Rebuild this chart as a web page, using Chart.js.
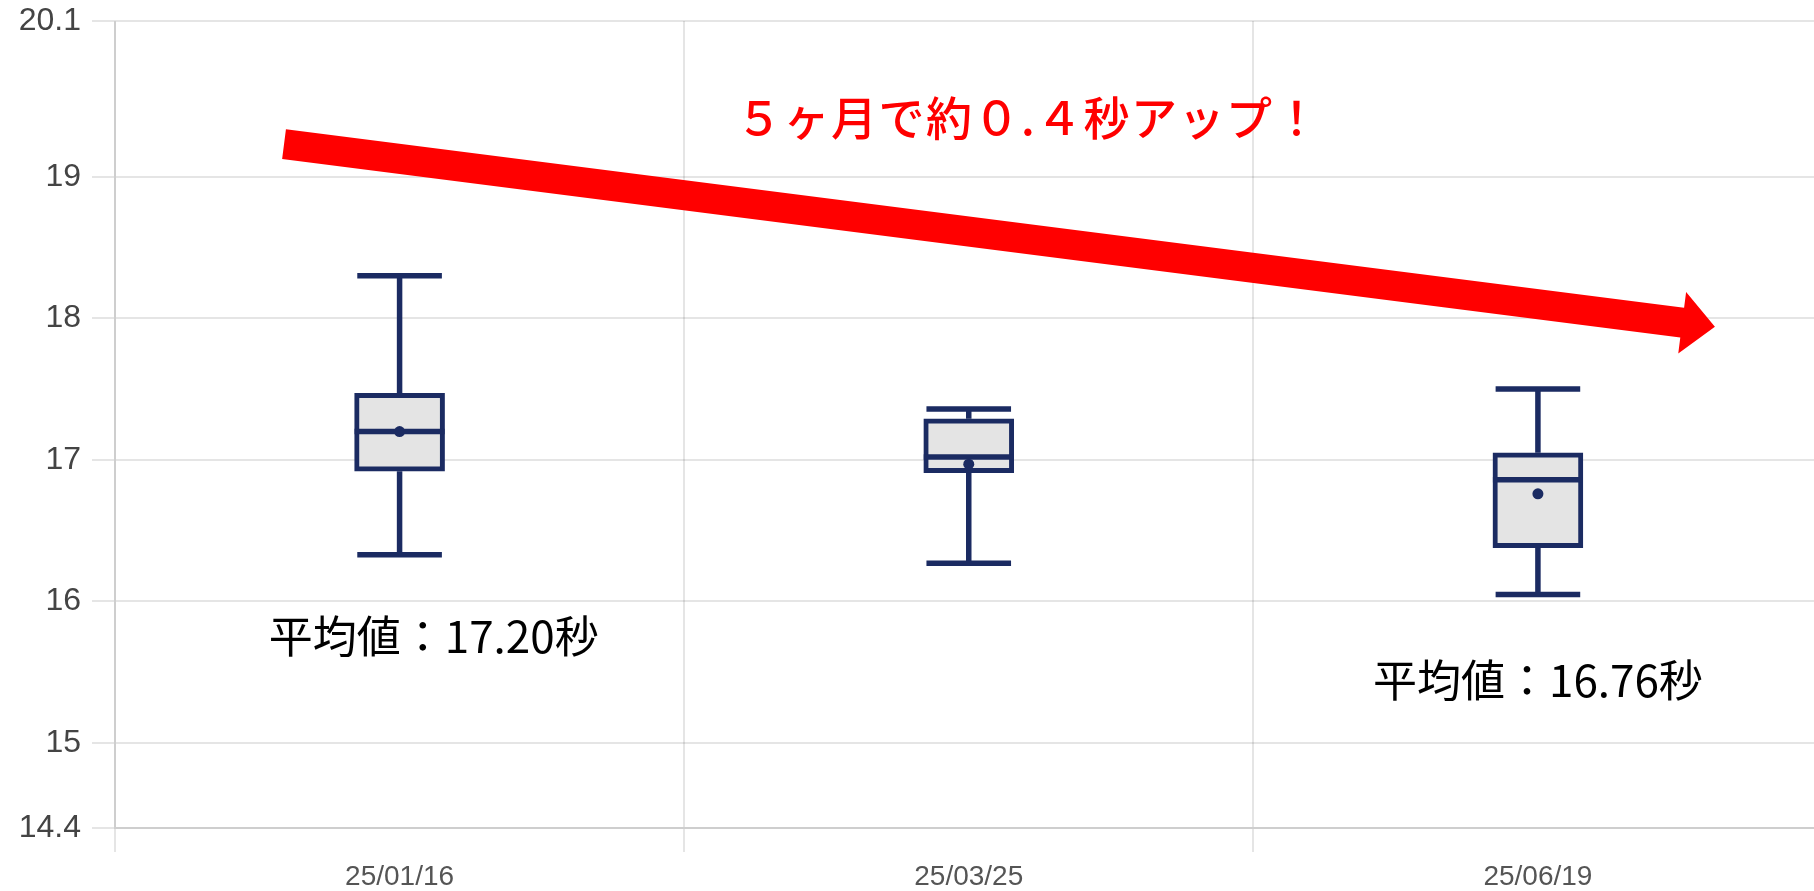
<!DOCTYPE html>
<html lang="ja">
<head>
  <meta charset="UTF-8" />
  <title>5ヶ月の推移</title>
  <style>
    html, body {
      margin: 0;
      padding: 0;
      background: #fff;
      overflow: hidden;
    }
    .wrap {
      width: 1828px;
      height: 891px;
      position: relative;
    }
  </style>
</head>
<body>
  <div class="wrap">
    <canvas id="chart"></canvas>
  </div>

  <script src="https://cdn.jsdelivr.net/npm/chart.js"></script>
  <script>
    // data
    const dates = ['25/01/16', '25/03/25', '25/06/19'];
    const mins = [16.33, 16.27, 16.05];
    const q1s = [16.92, 16.91, 16.38];
    const medians = [17.20, 17.02, 16.86];
    const q3s = [17.47, 17.29, 17.05];
    const maxs = [18.30, 17.36, 17.50];
    const means = [17.20, 16.97, 16.76];
    const yTicks = [14.4, 15, 16, 17, 18, 19, 20.1];

    const headline = '５ヶ月で約０.４秒アップ！';
    const meanNotes = ['平均値：17.20秒', '平均値：16.76秒'];

    const navy = '#1b2b62';
    const boxFill = '#e4e4e4';
    const gridColor = 'rgba(0,0,0,0.1)';
    const cjk = '"Noto Sans CJK JP", "Noto Sans", sans-serif';

    // annotation placement, in axis units (category index, seconds)
    const notes = {
      title: { at: [1.105, 19.42], font: '500 46px ' + cjk, color: '#ff0000', spacing: 1.5 },
      means: [
        { at: [0.06, 15.755] },
        { at: [2.0, 15.44] }
      ],
      arrow: { from: [-0.203, 19.23], to: [2.311, 17.94], shaft: 30, head: 62, headLen: 33 }
    };

    const boxParts = {
      id: 'boxParts',
      afterDatasetsDraw(chart) {
        const { ctx, scales: { x, y } } = chart;
        const bars = chart.getDatasetMeta(0).data;
        ctx.save();
        ctx.strokeStyle = navy;
        ctx.lineWidth = 5.5;
        bars.forEach((bar, i) => {
          const cx = x.getPixelForValue(i);
          const half = bar.width / 2;
          const cap = bar.width * 0.47;
          const top = y.getPixelForValue(q3s[i]);
          const bot = y.getPixelForValue(q1s[i]);
          const hi = y.getPixelForValue(maxs[i]);
          const lo = y.getPixelForValue(mins[i]);
          const med = y.getPixelForValue(medians[i]);
          ctx.beginPath();
          ctx.moveTo(cx, top); ctx.lineTo(cx, hi);
          ctx.moveTo(cx - cap, hi); ctx.lineTo(cx + cap, hi);
          ctx.moveTo(cx, bot); ctx.lineTo(cx, lo);
          ctx.moveTo(cx - cap, lo); ctx.lineTo(cx + cap, lo);
          ctx.moveTo(cx - half, med); ctx.lineTo(cx + half, med);
          ctx.stroke();
        });
        ctx.restore();
      },
      afterDraw(chart) {
        const { ctx, scales: { x, y } } = chart;
        ctx.save();

        // red arrow
        const a = notes.arrow;
        const x0 = x.getPixelForValue(a.from[0]), y0 = y.getPixelForValue(a.from[1]);
        const x1 = x.getPixelForValue(a.to[0]), y1 = y.getPixelForValue(a.to[1]);
        const len = Math.hypot(x1 - x0, y1 - y0);
        ctx.translate(x0, y0);
        ctx.rotate(Math.atan2(y1 - y0, x1 - x0));
        ctx.fillStyle = '#ff0000';
        ctx.beginPath();
        ctx.moveTo(0, -a.shaft / 2);
        ctx.lineTo(len - a.headLen, -a.shaft / 2);
        ctx.lineTo(len - a.headLen, -a.head / 2);
        ctx.lineTo(len, 0);
        ctx.lineTo(len - a.headLen, a.head / 2);
        ctx.lineTo(len - a.headLen, a.shaft / 2);
        ctx.lineTo(0, a.shaft / 2);
        ctx.closePath();
        ctx.fill();
        ctx.setTransform(1, 0, 0, 1, 0, 0);

        // headline
        const t = notes.title;
        ctx.font = t.font;
        ctx.fillStyle = t.color;
        ctx.textAlign = 'center';
        ctx.textBaseline = 'middle';
        ctx.letterSpacing = t.spacing + 'px';
        ctx.fillText(headline, x.getPixelForValue(t.at[0]), y.getPixelForValue(t.at[1]));
        ctx.letterSpacing = '0px';

        // mean labels
        ctx.font = '44px ' + cjk;
        ctx.fillStyle = '#000';
        notes.means.forEach((n, i) => {
          ctx.fillText(meanNotes[i], x.getPixelForValue(n.at[0]), y.getPixelForValue(n.at[1]));
        });
        ctx.restore();
      }
    };

    new Chart(document.getElementById('chart'), {
      data: {
        labels: dates,
        datasets: [
          {
            type: 'bar',
            label: 'box',
            data: q1s.map((q, i) => [q, q3s[i]]),
            backgroundColor: boxFill,
            borderColor: navy,
            borderWidth: 5,
            borderSkipped: false,
            barThickness: 90,
            order: 2
          },
          {
            type: 'line',
            label: 'mean',
            data: means,
            showLine: false,
            pointRadius: 5.5,
            pointBackgroundColor: navy,
            pointBorderWidth: 0,
            order: 1
          }
        ]
      },
      options: {
        responsive: true,
        maintainAspectRatio: false,
        animation: false,
        layout: { padding: { top: 21, left: 0, right: 0, bottom: 0 } },
        plugins: {
          legend: { display: false },
          tooltip: { enabled: false }
        },
        scales: {
          x: {
            offset: true,
            grid: { offset: true, color: gridColor, lineWidth: 2, tickLength: 24 },
            border: { color: gridColor, width: 2 },
            ticks: {
              color: '#555',
              padding: 8,
              font: { family: '"Liberation Sans", Arial, sans-serif', size: 28 }
            },
            afterFit(scale) { scale.height = 63; }
          },
          y: {
            min: 14.4,
            max: 20.1,
            grid: { color: gridColor, lineWidth: 2, tickLength: 23 },
            border: { color: gridColor, width: 2 },
            ticks: {
              color: '#444',
              padding: 11,
              font: { family: '"Liberation Sans", Arial, sans-serif', size: 32 }
            },
            afterBuildTicks(scale) {
              scale.ticks = yTicks.map(v => ({ value: v }));
            },
            afterFit(scale) {
              scale.width = 115;
              scale.paddingTop = 0;
              scale.paddingBottom = 0;
            }
          }
        }
      },
      plugins: [boxParts]
    });
  </script>
</body>
</html>
